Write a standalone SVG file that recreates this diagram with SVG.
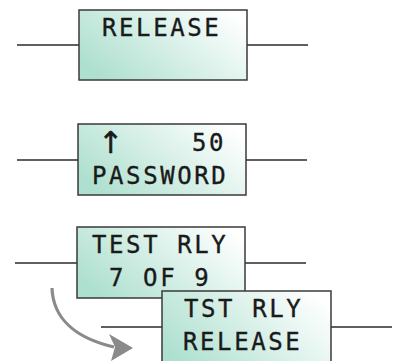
<svg xmlns="http://www.w3.org/2000/svg" width="393" height="361" viewBox="0 0 393 361">
<style>
.box{stroke:#3a3a3a;stroke-width:1.5;fill:url(#lcd)}
.wire{stroke:#2a2a2a;stroke-width:1.3;fill:none}
.lcdt{font-family:"DejaVu Sans Mono","Liberation Mono",monospace;font-size:24px;fill:#1a1a1a;stroke:#1a1a1a;stroke-width:0.35px;letter-spacing:2.6px}
.arr{font-family:"DejaVu Sans","Liberation Sans",sans-serif;font-size:30px;fill:#1a1a1a;stroke:#1a1a1a;stroke-width:0.5px}
.flow{stroke:#8a8a8a;stroke-width:3.2;fill:none}
</style>
<defs>
<linearGradient id="lcd" x1="0" y1="0.7" x2="1" y2="0.2">
<stop offset="0" stop-color="#aee0cf"/>
<stop offset="1" stop-color="#ffffff"/>
</linearGradient>
</defs>
<g id="connectors">
<line class="wire" x1="17" y1="45" x2="79" y2="45"/>
<line class="wire" x1="247" y1="45" x2="308" y2="45"/>
<line class="wire" x1="17" y1="160" x2="78" y2="160"/>
<line class="wire" x1="246" y1="160" x2="307" y2="160"/>
<line class="wire" x1="15" y1="263" x2="77" y2="263"/>
<line class="wire" x1="245" y1="263" x2="306" y2="263"/>
<line class="wire" x1="101" y1="327" x2="162" y2="327"/>
<line class="wire" x1="331" y1="327" x2="392" y2="327"/>
<path class="flow" d="M52,288 C53,318 75,338 114,347"/>
<polygon points="133,348 109,334 115,347 111,361" fill="#8a8a8a"/>
</g>
<g id="node1">
<rect class="box" x="79" y="10" width="168" height="70"/>
<text class="lcdt" x="102" y="36">RELEASE</text>
</g>
<g id="node2">
<rect class="box" x="78" y="124" width="168" height="71"/>
<text class="arr" x="98" y="153">↑</text>
<text class="lcdt" x="192" y="151">50</text>
<text class="lcdt" x="92" y="184">PASSWORD</text>
</g>
<g id="node3">
<rect class="box" x="77" y="227" width="168" height="71"/>
<text class="lcdt" x="92" y="253">TEST RLY</text>
<text class="lcdt" x="109" y="286">7 OF 9</text>
</g>
<g id="node4">
<rect class="box" x="162" y="291" width="169" height="80"/>
<text class="lcdt" x="184" y="317">TST RLY</text>
<text class="lcdt" x="183" y="350">RELEASE</text>
</g>
</svg>
